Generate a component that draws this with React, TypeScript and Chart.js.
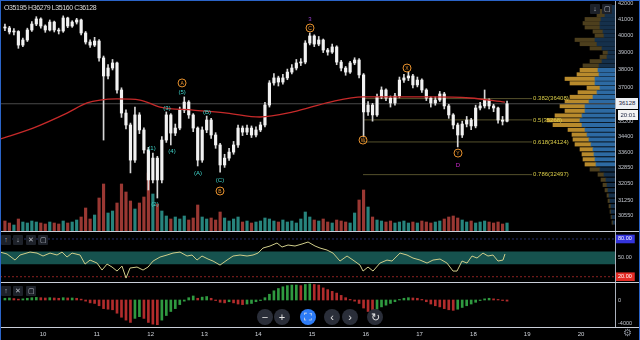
import React, { useEffect, useRef } from "react";
import { Chart, registerables } from "chart.js";
Chart.register(...registerables);

const FONT = "'Liberation Sans', Arial, sans-serif";
Chart.defaults.font.family = FONT;

// ---------------- data ----------------
const T0 = 9.2917; // day of first 2h candle
const STEP = 1 / 12;
const FIRST_OPEN = 40520;
const HEADER = { O: 35195, H: 36279, L: 35160, C: 36128 };
const LAST_PRICE = 36128;
const LAST_TIME = "20:01";

const C = [
  40460, 40220, 40250, 39440, 39740, 40340, 40700, 41010, 40580, 40340,
  40820, 40340, 40280, 41070, 40580, 40820, 40950, 40160, 39620, 39440,
  39680, 38690, 37660, 38110, 38400, 36880, 35630, 35000, 33210, 35530,
  34740, 33720, 32240, 33310, 32240, 34220, 35530, 34580, 34840, 35790,
  36220, 35530, 34840, 33210, 34740, 35260, 34480, 33970, 32970, 33310,
  33610, 33970, 34840, 34630, 34840, 34480, 34740, 35000, 36060, 37270,
  37550, 37320, 37550, 37880, 38110, 38400, 38450, 39560, 39980, 39500,
  39740, 39150, 39030, 39330, 38450, 38110, 37880, 38400, 38570, 37720,
  35690, 36060, 35530, 36500, 36880, 36440, 36170, 36550, 37430, 37550,
  37660, 37160, 37430, 36880, 36440, 36170, 36330, 36660, 36010, 35530,
  35000, 34480, 35050, 35260, 34950, 35900, 36010, 36330, 36010, 35900,
  35260, 35195, 36128,
];
const H = [
  40700, 40560, 40420, 40300, 39850, 40450, 40850, 41150, 41080, 40650,
  40950, 40880, 40450, 41200, 41120, 40900, 41050, 41000, 40250, 39750,
  39900, 39760, 38800, 38300, 38600, 38450, 37000, 35800, 35100, 35950,
  35650, 34850, 33850, 33560, 33400, 34400, 35690, 35600, 35050, 35950,
  36500, 36300, 35600, 34900, 34900, 35470, 35350, 34600, 34050, 33500,
  33800, 34150, 35000, 34950, 35000, 34950, 34900, 35150, 36200, 37400,
  37800, 37650, 37750, 38050, 38300, 38600, 38650, 39700, 40160, 40050,
  39950, 39800, 39250, 39500, 39400, 38550, 38200, 38500, 38700, 38650,
  37800, 36250, 36150, 36650, 37050, 36950, 36550, 36700, 37600, 37750,
  37880, 37750, 37600, 37500, 36950, 36500, 36500, 36800, 36750, 36100,
  35600, 35100, 35200, 35450, 35350, 36050, 36200, 36880, 36400, 36100,
  35950, 35450, 36279,
];
const L = [
  40300, 40100, 40050, 39250, 39350, 39650, 40250, 40600, 40450, 40200,
  40280, 40220, 40100, 40200, 40480, 40500, 40700, 40050, 39500, 39300,
  39350, 38500, 34220, 37500, 38000, 36700, 35400, 34800, 32580, 33100,
  34550, 33550, 31760, 32100, 31380, 32100, 34100, 33970, 34450, 34750,
  35650, 35350, 34650, 32920, 33100, 34600, 34300, 33800, 32620, 32850,
  33200, 33500, 33850, 34450, 34500, 34350, 34380, 34650, 34900, 35950,
  37150, 37100, 37200, 37450, 37780, 38000, 38250, 38350, 39450, 39350,
  39400, 39000, 38850, 38950, 38300, 37950, 37700, 37800, 38300, 37550,
  34380, 35500, 35200, 35450, 36400, 36300, 35950, 36050, 36450, 37300,
  37400, 37000, 37050, 36750, 36300, 35950, 36050, 36250, 35850, 35350,
  34800, 33870, 34350, 34900, 34750, 34850, 35800, 35900, 35850, 35700,
  35100, 35000, 35160,
];
const VOL = [
  10, 8, 6, 12, 9, 8, 10, 9, 8, 7,
  9, 8, 7, 10, 8, 9, 11, 14, 23, 12,
  16, 33, 47, 18, 20, 28, 47, 39, 30, 22,
  28, 34, 58, 37, 27, 20, 15, 12, 14, 12,
  15, 11, 13, 26, 14, 12, 13, 11, 19, 13,
  10, 12, 14, 9, 10, 8, 9, 10, 13, 12,
  10, 9, 11, 9, 10, 8, 12, 19, 14, 11,
  10, 12, 9, 8, 11, 10, 9, 8, 18, 31,
  41, 24, 14, 11, 10, 9, 10, 8, 9, 10,
  8, 9, 8, 10, 9, 8, 9, 10, 12, 14,
  15, 13, 11, 9, 10, 8, 9, 10, 9, 8,
  9, 7, 8,
];
const MACD = [
  300, 350, 250, 150, 200, 300, 400, 450, 400, 350,
  400, 350, 300, 400, 350, 350, 300, 150, -200, -500,
  -600, -1000, -1500, -1600, -1700, -2300, -3000, -3500, -3900, -3200,
  -2900, -3200, -3900, -4200, -4300, -3500, -2700, -2000, -1500, -800,
  -200, 400, 700, 300, 500, 600, 300, -100, -400, -500,
  -300, -500, -700, -800, -700, -600, -300, -100, 400, 1000,
  1600, 2000, 2300, 2500, 2600, 2600, 2500, 2700, 2800, 2700,
  2600, 2100, 1800, 1500, 1200, 800, 400, 100, -200, -600,
  -1400, -2000, -2100, -1600, -1200, -900, -600, -300, 100, 300,
  400, 350, 300, 100, -300, -700, -1000, -1200, -1500, -1700,
  -1800, -1600, -1300, -1000, -700, -400, -100, 200, 300, 200,
  100, -100, -200,
];
const MA_T = [9.2, 9.814, 10.446, 10.818, 11.06, 11.375, 11.803, 12.175, 12.788, 13.42, 14.03, 14.647, 15.335, 15.948, 16.58, 17.193, 17.937, 18.587];
const MA_V = [34270, 34840, 35630, 36170, 36330, 36390, 36330, 35950, 35790, 35630, 35420, 35690, 36220, 36500, 36500, 36500, 36440, 36220];

const RSI_T = [9.2, 9.331, 9.48, 9.572, 9.758, 9.888, 10.0, 10.13, 10.26, 10.353, 10.446, 10.539, 10.688, 10.781, 10.874, 11.004, 11.097, 11.19, 11.283, 11.375, 11.468, 11.543, 11.617, 11.747, 11.859, 11.952, 12.045, 12.175, 12.305, 12.416, 12.546, 12.677, 12.77, 12.862, 12.955, 13.067, 13.16, 13.29, 13.42, 13.532, 13.662, 13.792, 13.903, 13.996, 14.089, 14.219, 14.349, 14.442, 14.554, 14.684, 14.814, 14.926, 15.056, 15.149, 15.279, 15.39, 15.52, 15.651, 15.762, 15.892, 15.948, 16.041, 16.134, 16.264, 16.394, 16.487, 16.636, 16.766, 16.877, 17.007, 17.138, 17.249, 17.379, 17.509, 17.621, 17.695, 17.788, 17.881, 17.974, 18.067, 18.178, 18.271, 18.364, 18.457, 18.55, 18.587];
const RSI_V = [59.2, 56.1, 46.5, 54.5, 59.2, 57.6, 52.9, 57.6, 54.5, 59.2, 51.3, 57.6, 54.5, 40.1, 46.5, 41.7, 30.6, 40.1, 35.4, 29.0, 36.9, 17.8, 33.8, 35.4, 30.6, 35.4, 44.9, 51.3, 54.5, 57.6, 59.2, 52.9, 54.5, 46.5, 52.9, 48.1, 44.9, 38.5, 46.5, 52.9, 54.5, 52.9, 54.5, 57.6, 65.6, 68.8, 73.6, 67.2, 70.4, 68.8, 72.0, 75.2, 68.8, 65.6, 62.4, 57.6, 44.9, 52.9, 46.5, 38.5, 29.0, 35.4, 29.0, 41.7, 46.5, 44.9, 57.6, 54.5, 49.7, 46.5, 41.7, 46.5, 48.1, 41.7, 29.0, 29.0, 44.9, 41.7, 52.9, 49.7, 57.6, 52.9, 54.5, 44.9, 46.5, 56.1];

const WAVE_TEXT = ["(1)", "(2)", "(3)", "(4)", "(5)", "A", "(A)", "(B)", "(C)", "B", "C", "3", "W", "X", "Y", "D"];
const WAVE_KIND = ["p", "p", "p", "p", "p", "c", "p", "p", "p", "c", "c", "m", "c", "c", "c", "d"];
const WAVE_T = [12.026, 12.082, 12.305, 12.398, 12.584, 12.584, 12.881, 13.048, 13.29, 13.29, 14.963, 14.963, 15.948, 16.766, 17.714, 17.714];
const WAVE_P = [33815, 31100, 35900, 33665, 36770, 37270, 32575, 35685, 32240, 31710, 40460, 41000, 34220, 38110, 33560, 32970];

const FIB_R = ["0.382", "0.5", "0.618", "0.786"];
const FIB_V = [36408, 35268, 34124, 32497];
const FIB_START = 15.948;
const FIB_END = 19.09;

const PROF_P = [41750, 41500, 41250, 41000, 40750, 40500, 40250, 40000, 39750, 39500, 39250, 39000, 38750, 38500, 38250, 38000, 37750, 37500, 37250, 37000, 36750, 36500, 36250, 36000, 35750, 35500, 35250, 35000, 34750, 34500, 34250, 34000, 33750, 33500, 33250, 33000, 32750, 32500, 32250, 32000, 31750, 31500, 31250, 31000, 30750, 30500, 30250];
const PROF_TOTAL = [10, 15, 18, 30, 32, 30, 22, 20, 40, 35, 25, 12, 15, 25, 32, 35, 38, 50, 45, 28, 37, 45, 50, 55, 50, 60, 68, 62, 47, 43, 42, 40, 35, 33, 32, 30, 25, 17, 14, 12, 10, 8, 7, 6, 5, 4, 3];
const PROF_BLUE = [6, 8, 10, 14, 15, 15, 12, 11, 20, 18, 13, 7, 8, 13, 16, 17, 16, 20, 20, 15, 18, 22, 26, 30, 30, 33, 35, 33, 30, 28, 26, 24, 22, 21, 20, 19, 15, 11, 9, 8, 7, 6, 5, 4, 4, 3, 2];
const VA_LOW = 33000;
const VA_HIGH = 38000;

const PRICE_TICKS = [42000, 41000, 40000, 39000, 38000, 37000, 35200, 34400, 33600, 32850, 32050, 31250, 30550];
const RSI_TICKS = [80, 50, 20];
const RSI_BAND = [40, 60];
const MACD_TICKS = [0, -4000];
const DAY_TICKS = [10, 11, 12, 13, 14, 15, 16, 17, 18, 19, 20];

// ---------------- layout constants ----------------
const XMIN = 9.2;
const XMAX = 20.632;
const AXIS_W = 25;
const PRICE_MIN = 29871;
const PRICE_MAX = 42126;

const labelPlugin = {
  id: "waveFibLabels",
  afterDatasetsDraw(chart: any) {
    const ctx = chart.ctx;
    ctx.save();
    chart.data.datasets.forEach((ds: any, di: number) => {
      const meta = chart.getDatasetMeta(di);
      if (ds.fibText) {
        const pt = meta.data[meta.data.length - 1];
        ctx.font = `6px ${FONT}`;
        ctx.fillStyle = "#d9cc48";
        ctx.textAlign = "left";
        ctx.textBaseline = "middle";
        ctx.fillText(ds.fibText, pt.x + 1, pt.y);
      }
      if (ds.waveText) {
        meta.data.forEach((pt: any, i: number) => {
          const kind = ds.waveKind[i];
          const txt = ds.waveText[i];
          ctx.textAlign = "center";
          ctx.textBaseline = "middle";
          if (kind === "c") {
            ctx.beginPath();
            ctx.arc(pt.x, pt.y, 4, 0, Math.PI * 2);
            ctx.strokeStyle = "#e8922e";
            ctx.lineWidth = 1;
            ctx.stroke();
            ctx.font = `5px ${FONT}`;
            ctx.fillStyle = "#e8922e";
            ctx.fillText(txt, pt.x, pt.y + 0.5);
          } else {
            ctx.font = `6px ${FONT}`;
            ctx.fillStyle = kind === "p" ? "#40d6cc" : kind === "m" ? "#9b3fd0" : "#d22ad2";
            ctx.fillText(txt, pt.x, pt.y);
          }
        });
      }
    });
    ctx.restore();
  },
};

function rightAxis(extra: any, ticks: number[], fmt: (v: number) => string, tickExtra: any = {}) {
  return {
    position: "right",
    offset: false,
    grid: { display: false, drawTicks: false, offset: false },
    border: { display: true, color: "#aab0bb", width: 1 },
    ticks: {
      color: "#c3c7cf",
      font: { size: 5.5, family: FONT },
      padding: 3,
      autoSkip: false,
      callback: (v: any) => fmt(Number(v)),
      ...tickExtra,
    },
    afterBuildTicks: (s: any) => {
      s.ticks = ticks.map((v) => ({ value: v }));
    },
    afterFit: (s: any) => {
      s.width = AXIS_W;
      s.paddingTop = 0;
      s.paddingBottom = 0;
    },
    ...extra,
  };
}

const hiddenX = { type: "linear", min: XMIN, max: XMAX, display: false, offset: false, grid: { offset: false } };

export default function App() {
  const r1 = useRef<HTMLCanvasElement>(null);
  const r2 = useRef<HTMLCanvasElement>(null);
  const r3 = useRef<HTMLCanvasElement>(null);

  useEffect(() => {
    const times = C.map((_, i) => T0 + i * STEP);
    const opens = C.map((_, i) => (i === 0 ? FIRST_OPEN : C[i - 1]));
    const up = C.map((c, i) => c >= opens[i]);

    const common = {
      animation: false,
      responsive: false,
      events: [],
      plugins: { legend: { display: false }, tooltip: { enabled: false } },
    };

    const fibSets = FIB_V.map((v, i) => ({
      type: "line",
      data: [
        { x: FIB_START, y: v },
        { x: FIB_END, y: v },
      ],
      borderColor: "#55512c",
      borderWidth: 1,
      pointRadius: 0,
      xAxisID: "x",
      yAxisID: "y",
      order: 8,
      fibText: `${FIB_R[i]}(${v})`,
    }));

    const c1 = new Chart(r1.current as HTMLCanvasElement, {
      type: "bar",
      data: {
        datasets: [
          {
            type: "bar",
            indexAxis: "y",
            data: PROF_P.map((p, i) => ({ y: p, x: [0, PROF_BLUE[i]] })),
            backgroundColor: PROF_P.map((p) => (p >= VA_LOW && p <= VA_HIGH ? "#2d6aa3" : "#15304b")),
            barThickness: 3.4,
            grouped: false,
            xAxisID: "xp",
            yAxisID: "y",
            order: 10,
          },
          {
            type: "bar",
            indexAxis: "y",
            data: PROF_P.map((p, i) => ({ y: p, x: [PROF_BLUE[i], PROF_TOTAL[i]] })),
            backgroundColor: PROF_P.map((p) => (p >= VA_LOW && p <= VA_HIGH ? "#b88a2c" : "#4d3f1d")),
            barThickness: 3.4,
            grouped: false,
            xAxisID: "xp",
            yAxisID: "y",
            order: 10,
          },
          {
            type: "bar",
            data: times.map((t, i) => ({ x: t, y: VOL[i] })),
            backgroundColor: up.map((u) => (u ? "#27847d" : "#9a3833")),
            barThickness: 2.5,
            grouped: false,
            xAxisID: "x",
            yAxisID: "yv",
            order: 9,
          },
          ...fibSets,
          {
            type: "line",
            data: [
              { x: XMIN, y: LAST_PRICE },
              { x: XMAX, y: LAST_PRICE },
            ],
            borderColor: "#4a4a4a",
            borderWidth: 1,
            pointRadius: 0,
            xAxisID: "x",
            yAxisID: "y",
            order: 7,
          },
          {
            type: "bar",
            data: times.map((t, i) => ({ x: t, y: [L[i], H[i]] })),
            backgroundColor: "#d6d6d6",
            barThickness: 1,
            grouped: false,
            xAxisID: "x",
            yAxisID: "y",
            order: 5,
          },
          {
            type: "bar",
            data: times.map((t, i) => ({ x: t, y: [opens[i], C[i]] })),
            backgroundColor: "#f2f2f2",
            barThickness: 2.5,
            minBarLength: 1,
            grouped: false,
            xAxisID: "x",
            yAxisID: "y",
            order: 4,
          },
          {
            type: "line",
            data: MA_T.map((t, i) => ({ x: t, y: MA_V[i] })),
            borderColor: "#c62a2a",
            borderWidth: 1.3,
            pointRadius: 0,
            cubicInterpolationMode: "monotone",
            xAxisID: "x",
            yAxisID: "y",
            order: 3,
          },
          {
            type: "line",
            showLine: false,
            data: WAVE_T.map((t, i) => ({ x: t, y: WAVE_P[i] })),
            pointRadius: 0,
            xAxisID: "x",
            yAxisID: "y",
            order: 1,
            waveText: WAVE_TEXT,
            waveKind: WAVE_KIND,
          },
        ] as any,
      },
      options: {
        ...common,
        layout: { padding: { top: 1, left: 0, right: 0, bottom: 0 } },
        scales: {
          x: hiddenX,
          xp: { type: "linear", min: 0, max: 615, reverse: true, display: false, offset: false, grid: { offset: false } },
          yv: { type: "linear", min: 0, max: 230, display: false, offset: false },
          y: rightAxis({ type: "logarithmic", min: PRICE_MIN, max: PRICE_MAX }, PRICE_TICKS, (v) => String(v)),
        },
      } as any,
      plugins: [labelPlugin],
    } as any);

    const c2 = new Chart(r2.current as HTMLCanvasElement, {
      type: "line",
      data: {
        datasets: [
          {
            data: [
              { x: XMIN, y: RSI_BAND[1] },
              { x: XMAX, y: RSI_BAND[1] },
            ],
            borderWidth: 0,
            pointRadius: 0,
            fill: { value: RSI_BAND[0] },
            backgroundColor: "#16524e",
            order: 5,
          },
          {
            data: [
              { x: XMIN, y: RSI_TICKS[0] },
              { x: XMAX, y: RSI_TICKS[0] },
            ],
            borderColor: "#27306a",
            borderWidth: 1,
            borderDash: [2, 2],
            pointRadius: 0,
            order: 4,
          },
          {
            data: [
              { x: XMIN, y: RSI_TICKS[2] },
              { x: XMAX, y: RSI_TICKS[2] },
            ],
            borderColor: "#8a2020",
            borderWidth: 1,
            borderDash: [2, 2],
            pointRadius: 0,
            order: 4,
          },
          {
            data: RSI_T.map((t, i) => ({ x: t, y: RSI_V[i] })),
            borderColor: "#d0cd8a",
            borderWidth: 1,
            pointRadius: 0,
            order: 1,
          },
        ] as any,
      },
      options: {
        ...common,
        layout: { padding: 0 },
        scales: {
          x: hiddenX,
          y: rightAxis(
            { type: "linear", min: 11.6, max: 91.1 },
            RSI_TICKS,
            (v) => v.toFixed(2),
            {
              showLabelBackdrop: (c: any) => c.tick && (c.tick.value === 80 || c.tick.value === 20),
              backdropColor: (c: any) =>
                c.tick && c.tick.value === 80 ? "#3434dc" : c.tick && c.tick.value === 20 ? "#e32b25" : "rgba(0,0,0,0)",
              backdropPadding: { left: 2, right: 3, top: 1, bottom: 1 },
              color: (c: any) => (c.tick && c.tick.value === 50 ? "#c3c7cf" : "#ffffff"),
            }
          ),
        },
      } as any,
    } as any);

    const c3 = new Chart(r3.current as HTMLCanvasElement, {
      type: "bar",
      data: {
        datasets: [
          {
            data: times.map((t, i) => ({ x: t, y: MACD[i] })),
            backgroundColor: MACD.map((v, i) => (i > 0 && v < MACD[i - 1] ? "#b22c2c" : "#2f9a40")),
            barThickness: 2,
            grouped: false,
          },
        ] as any,
      },
      options: {
        ...common,
        layout: { padding: 0 },
        scales: {
          x: {
            type: "linear",
            min: XMIN,
            max: XMAX,
            offset: false,
            position: "bottom",
            grid: { display: false, drawTicks: false, offset: false },
            border: { display: true, color: "#c9ced8", width: 1 },
            ticks: { color: "#cfd3da", font: { size: 6, family: FONT }, padding: 4, autoSkip: false, callback: (v: any) => String(v) },
            afterBuildTicks: (s: any) => {
              s.ticks = DAY_TICKS.map((v) => ({ value: v }));
            },
            afterFit: (s: any) => {
              s.height = 13;
              s.paddingLeft = 0;
              s.paddingRight = 0;
            },
          },
          y: rightAxis({ type: "linear", min: -4696, max: 3130 }, MACD_TICKS, (v) => String(v)),
        },
      } as any,
    } as any);

    return () => {
      c1.destroy();
      c2.destroy();
      c3.destroy();
    };
  }, []);

  const icon = (x: number, y: number, t: string, key: string) => (
    <div
      key={key}
      style={{
        position: "absolute",
        left: x - 5,
        top: y - 5,
        width: 10,
        height: 10,
        background: "#1d2129",
        color: "#b8bcc6",
        fontSize: 7,
        lineHeight: "10px",
        textAlign: "center",
        borderRadius: 1,
      }}
    >
      {t}
    </div>
  );

  const btn = (x: number, t: string, key: string, blue = false) => (
    <div
      key={key}
      style={{
        position: "absolute",
        left: x - 8,
        top: 317 - 8,
        width: 16,
        height: 16,
        borderRadius: 8,
        background: blue ? "#2e7cf6" : "#2a2e39",
        color: "#e6e6e6",
        fontSize: 11,
        lineHeight: "16px",
        textAlign: "center",
      }}
    >
      {t}
    </div>
  );

  const hline = (y: number, key: string) => (
    <div key={key} style={{ position: "absolute", left: 0, top: y, width: 640, height: 1, background: "#c9ced8" }} />
  );

  return (
    <div
      style={{
        position: "fixed",
        left: 0,
        top: 0,
        width: 640,
        height: 340,
        background: "#000",
        overflow: "hidden",
        fontFamily: FONT,
      }}
    >
      <canvas ref={r1} width={640} height={231} style={{ position: "absolute", left: 0, top: 0, width: 640, height: 231 }} />
      <canvas ref={r2} width={640} height={50} style={{ position: "absolute", left: 0, top: 232, width: 640, height: 50 }} />
      <canvas ref={r3} width={640} height={58} style={{ position: "absolute", left: 0, top: 282, width: 640, height: 58 }} />

      {hline(231, "h1")}
      {hline(282, "h2")}
      {hline(327, "h3")}
      <div style={{ position: "absolute", left: 0, top: 0, width: 1, height: 340, background: "#2b64c8" }} />
      <div style={{ position: "absolute", left: 0, top: 0, width: 640, height: 1, background: "#2b64c8" }} />
      <div style={{ position: "absolute", left: 639, top: 0, width: 1, height: 340, background: "#2b64c8" }} />

      <div
        style={{
          position: "absolute",
          left: 4,
          top: 4,
          fontSize: 7,
          letterSpacing: -0.4,
          color: "#dcdcdc",
          lineHeight: "8px",
          whiteSpace: "nowrap",
        }}
      >
        {`O${HEADER.O} H${HEADER.H} L${HEADER.L} C${HEADER.C}`}
      </div>

      <div
        style={{
          position: "absolute",
          left: 616,
          top: 98,
          width: 22,
          height: 11,
          background: "#eef0f4",
          color: "#1a2340",
          fontSize: 6,
          lineHeight: "11px",
          textAlign: "center",
        }}
      >
        {String(LAST_PRICE)}
      </div>
      <div
        style={{
          position: "absolute",
          left: 618,
          top: 110,
          width: 20,
          height: 10,
          background: "#f4f4f4",
          color: "#1a2340",
          fontSize: 6,
          lineHeight: "10px",
          textAlign: "center",
        }}
      >
        {LAST_TIME}
      </div>

      {icon(595, 9, "↓", "m1")}
      {icon(607, 9, "▢", "m2")}
      {icon(6, 240, "↑", "r1")}
      {icon(18, 240, "↓", "r2")}
      {icon(31, 240, "✕", "r3")}
      {icon(43, 240, "▢", "r4")}
      {icon(6, 291, "↑", "d1")}
      {icon(18, 291, "✕", "d2")}
      {icon(31, 291, "▢", "d3")}

      {btn(265, "−", "b1")}
      {btn(282, "+", "b2")}
      {btn(308, "⛶", "b3", true)}
      {btn(332, "‹", "b4")}
      {btn(350, "›", "b5")}
      {btn(375, "↻", "b6")}

      <div style={{ position: "absolute", left: 623, top: 327, fontSize: 10, color: "#8a8f99", lineHeight: "12px" }}>⚙</div>
    </div>
  );
}
